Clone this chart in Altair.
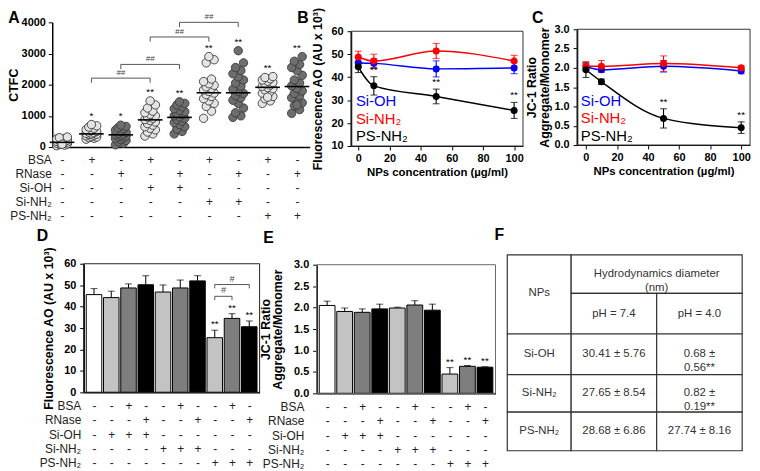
import json
import altair as alt
import pandas as pd

# ------------------------------------------------------------------ data
ROWS = ["BSA", "RNase", "Si-OH", "Si-NH₂", "PS-NH₂"]

# Panel A (CTFC scatter)
A_BSA = ["-", "+", "-", "+", "-", "+", "-", "+", "-"]
A_RNASE = ["-", "-", "+", "-", "+", "-", "+", "-", "+"]
A_SIOH = ["-", "-", "-", "+", "+", "-", "-", "-", "-"]
A_SINH2 = ["-", "-", "-", "-", "-", "+", "+", "-", "-"]
A_PSNH2 = ["-", "-", "-", "-", "-", "-", "-", "+", "+"]
A_SHADE = ["light", "light", "dark", "light", "dark", "light", "dark", "light", "dark"]
A_G0 = [40, 60, 80, 100, 110, 120, 140, 150, 160, 170, 180, 190, 200, 220, 240, 260, 280, 300, 320, 90]
A_G1 = [250, 280, 300, 320, 340, 360, 380, 400, 410, 420, 440, 460, 480, 500, 530, 560, 600, 640, 680, 720]
A_G2 = [70, 120, 170, 210, 240, 270, 300, 330, 350, 370, 390, 410, 440, 470, 500, 540, 580, 620, 660, 700]
A_G3 = [350, 420, 480, 550, 600, 650, 700, 750, 800, 850, 880, 920, 960, 1000, 1050, 1100, 1150, 1250, 1350, 1480]
A_G4 = [420, 500, 580, 650, 720, 780, 830, 880, 920, 960, 1000, 1040, 1080, 1130, 1180, 1230, 1290, 1350, 1400, 1450]
A_G5 = [920, 1150, 1300, 1400, 1480, 1550, 1620, 1680, 1730, 1780, 1830, 1880, 1930, 1980, 2030, 2100, 2180, 2700, 2800, 2900]
A_G6 = [950, 1000, 1100, 1250, 1400, 1500, 1580, 1650, 1720, 1780, 1850, 1950, 2050, 2150, 2250, 2350, 2450, 2550, 2700, 3090]
A_G7 = [1400, 1480, 1550, 1620, 1680, 1730, 1780, 1830, 1870, 1910, 1950, 1990, 2030, 2070, 2110, 2150, 2190, 2230, 2260, 1600]
A_G8 = [1080, 1200, 1320, 1420, 1500, 1580, 1650, 1720, 1800, 1880, 1960, 2050, 2150, 2300, 2450, 2550, 2650, 2750, 2900, 1350]
A_GROUPS = [A_G0, A_G1, A_G2, A_G3, A_G4, A_G5, A_G6, A_G7, A_G8]
A_MEANS = [150, 420, 390, 870, 950, 1740, 1740, 1915, 1940]
A_STARS = ["", "*", "*", "**", "**", "**", "**", "**", "**"]
A_BR_FROM = [1, 2, 3, 4]
A_BR_TO = [3, 4, 5, 6]
A_BR_Y = [2210, 2650, 3530, 4000]
A_BR_TEXT = ["##", "##", "##", "##"]

# Panels B and C (concentration curves)
CONC = [0, 10, 50, 100]
SERIES = ["Si-OH", "Si-NH₂", "PS-NH₂"]
SERIES_COLORS = ["#0000ff", "#ff0000", "#000000"]
B_SIOH = [46.2, 46.0, 43.6, 44.0]
B_SIOH_ERR = [2.0, 2.0, 3.5, 2.5]
B_SINH2 = [48.8, 47.0, 51.4, 47.0]
B_SINH2_ERR = [2.5, 3.0, 3.3, 2.5]
B_PSNH2 = [44.5, 36.2, 31.6, 25.5]
B_PSNH2_ERR = [2.5, 4.0, 3.2, 3.5]
B_STARS = ["", "**", "**", "**"]
C_SIOH = [2.03, 1.95, 2.04, 1.92]
C_SIOH_ERR = [0.08, 0.06, 0.15, 0.07]
C_SINH2 = [2.05, 2.04, 2.11, 2.00]
C_SINH2_ERR = [0.10, 0.15, 0.20, 0.05]
C_PSNH2 = [1.95, 1.64, 0.69, 0.45]
C_PSNH2_ERR = [0.20, 0.07, 0.25, 0.15]
C_STARS = ["", "*", "**", "**"]

# Panels D and E (bars)
D_BSA = ["-", "-", "+", "-", "-", "+", "-", "-", "+", "-"]
D_RNASE = ["-", "-", "-", "+", "-", "-", "+", "-", "-", "+"]
D_SIOH = ["-", "+", "+", "+", "-", "-", "-", "-", "-", "-"]
D_SINH2 = ["-", "-", "-", "-", "+", "+", "+", "-", "-", "-"]
D_PSNH2 = ["-", "-", "-", "-", "-", "-", "-", "+", "+", "+"]
BAR_SHADE = ["white", "light", "dark", "black", "light", "dark", "black", "light", "dark", "black"]
D_VALUES = [45.6, 44.2, 48.7, 50.2, 46.8, 48.7, 52.0, 25.5, 34.5, 30.6]
D_ERR = [2.8, 3.0, 1.9, 4.2, 3.3, 3.7, 2.4, 3.5, 2.2, 2.7]
D_STARS = ["", "", "", "", "", "", "", "**", "**", "**"]
D_BR_FROM = [7, 7]
D_BR_TO = [9, 8]
D_BR_Y = [50.3, 44.8]
D_BR_TEXT = ["#", "#"]
E_VALUES = [2.05, 1.91, 1.89, 1.97, 1.99, 2.06, 1.94, 0.45, 0.63, 0.61]
E_ERR = [0.10, 0.08, 0.08, 0.11, 0.02, 0.10, 0.14, 0.15, 0.02, 0.01]
E_STARS = ["", "", "", "", "", "", "", "**", "**", "**"]

# Panel F (table)
F_TEXT = ["NPs", "Hydrodynamics diameter|(nm)", "pH = 7.4", "pH = 4.0",
          "Si-OH", "30.41 ± 5.76", "0.68 ±|0.56**",
          "Si-NH₂", "27.65 ± 8.54", "0.82 ±|0.19**",
          "PS-NH₂", "28.68 ± 6.86", "27.74 ± 8.16"]
F_C0 = [0, 1, 1, 2, 0, 1, 2, 0, 1, 2, 0, 1, 2]
F_C1 = [1, 3, 2, 3, 1, 2, 3, 1, 2, 3, 1, 2, 3]
F_R0 = [0, 0, 1, 1, 2, 2, 2, 3, 3, 3, 4, 4, 4]
F_R1 = [2, 1, 2, 2, 3, 3, 3, 4, 4, 4, 5, 5, 5]

# ------------------------------------------------------------------ layout helpers
W, H = 752, 463
SX = 752 / 757
FONT = "Liberation Sans"
A_FILL = {"light": "#e4e4e4", "dark": "#6e6e6e"}
BAR_FILL = {"white": "#ffffff", "light": "#c3c3c3", "dark": "#7e7e7e", "black": "#000000"}


def px(r):
    return (r - 3) * SX


def py(r):
    return r - 6


def matrix_expr(cols):
    labels = ["|".join(c) for c in zip(*cols)]
    return "split(" + json.dumps(labels) + "[datum.value], '|')"


def matrix_axis(cols, axis_y, label_right, pad, lh):
    return alt.Axis(orient="bottom", offset=py(axis_y) - H, values=list(range(len(cols[0]))),
                    labelExpr=matrix_expr(cols), ticks=False, tickSize=0,
                    domainColor="black", domainWidth=1.5,
                    labelFont=FONT, labelFontSize=12, labelColor="#222", labelFontWeight="normal",
                    labelBaseline="top", labelLineHeight=lh, labelPadding=pad,
                    labelOverlap=False, labelFlush=False, labelAlign="center",
                    title=ROWS, titleFont=FONT, titleFontSize=12, titleFontWeight="normal",
                    titleColor="#222", titleAlign="right", titleBaseline="top",
                    titleX=px(label_right), titleY=pad, titleLineHeight=lh, grid=False)


def y_axis(axis_x, values, title, fmt, title_pad=4, label_pad=4):
    return alt.Axis(orient="left", offset=-px(axis_x), values=values, format=fmt,
                    tickSize=4, tickColor="black",
                    domainColor="black", domainWidth=1.5, labelFont=FONT, labelFontSize=11,
                    labelFontWeight="bold", labelColor="black", labelPadding=label_pad,
                    labelOverlap=False, labelFlush=False,
                    title=title, titleFont=FONT, titleFontSize=12.5, titleFontWeight="bold",
                    titleColor="black", titlePadding=title_pad, titleLineHeight=12.5, grid=False)


def conc_axis(axis_y):
    return alt.Axis(orient="bottom", offset=py(axis_y) - H, values=[0, 20, 40, 60, 80, 100],
                    tickSize=4, tickColor="black", domainColor="black", domainWidth=1.2,
                    labelFont=FONT, labelFontSize=11, labelFontWeight="bold", labelColor="black",
                    labelPadding=3, labelOverlap=False, labelFlush=False,
                    title="NPs concentration (µg/ml)", titleFont=FONT, titleFontSize=11.5,
                    titleFontWeight="bold", titleColor="black", titlePadding=3, grid=False)


def brackets(xs, ys, frm, to, yv, txt, tick, fsize):
    df = pd.DataFrame({"f": frm, "t": to, "y": yv, "txt": txt})
    base = alt.Chart(df).transform_calculate(ylo=f"datum.y - {tick}", mid="(datum.f + datum.t) / 2")
    h = base.mark_rule(color="#555", strokeWidth=1).encode(
        x=alt.X("f:Q", scale=xs), x2="t:Q", y=alt.Y("y:Q", scale=ys))
    l1 = base.mark_rule(color="#555", strokeWidth=1).encode(
        x=alt.X("f:Q", scale=xs), y=alt.Y("y:Q", scale=ys), y2="ylo:Q")
    l2 = base.mark_rule(color="#555", strokeWidth=1).encode(
        x=alt.X("t:Q", scale=xs), y=alt.Y("y:Q", scale=ys), y2="ylo:Q")
    tx = base.mark_text(font=FONT, fontSize=fsize, fontStyle="italic", color="#444",
                        baseline="bottom", dy=-1).encode(
        x=alt.X("mid:Q", scale=xs), y=alt.Y("y:Q", scale=ys), text="txt:N")
    return [h, l1, l2, tx]


def box(xs, ys, xdom, ydom, color):
    df = pd.DataFrame({"x0": [xdom[0]], "x1": [xdom[1]], "y0": [ydom[0]], "y1": [ydom[1]]})
    return alt.Chart(df).mark_rect(fillOpacity=0, stroke=color, strokeWidth=1).encode(
        x=alt.X("x0:Q", scale=xs), x2="x1:Q",
        y=alt.Y("y0:Q", scale=ys), y2="y1:Q")


def letter(t, rx, ry):
    return alt.Chart(pd.DataFrame({"t": [t]})).mark_text(
        font=FONT, fontSize=16, fontWeight="bold", align="center", baseline="middle",
        color="black").encode(x=alt.value(px(rx)), y=alt.value(py(ry)), text="t:N")


# ------------------------------------------------------------------ panel A
a_rows = []
for i, vals in enumerate(A_GROUPS):
    for j, v in enumerate(vals):
        a_rows.append({"idx": i, "j": j, "val": v, "fill": A_FILL[A_SHADE[i]]})
dfA = pd.DataFrame(a_rows)
xA = alt.Scale(domain=[-0.335, 8.435], range=[px(48), px(310)], nice=False, zero=False)
yA = alt.Scale(domain=[0, 4000], range=[py(144), py(18)], nice=False, zero=False)
A_cols = [A_BSA, A_RNASE, A_SIOH, A_SINH2, A_PSNH2]

A_pts = alt.Chart(dfA).transform_calculate(
    xj="datum.idx + (((datum.j * 3) % 5) - 2) * 0.09"
).mark_circle(size=72, opacity=1, stroke="#3a3a3a", strokeWidth=0.9).encode(
    x=alt.X("xj:Q", scale=xA, axis=matrix_axis(A_cols, 144, 47, 7.5, 14.25)),
    y=alt.Y("val:Q", scale=yA, axis=y_axis(48, [0, 1000, 2000, 3000, 4000], "CTFC", "d",
                                           title_pad=1, label_pad=3)),
    fill=alt.Fill("fill:N", scale=None))

dfAm = pd.DataFrame({"idx": list(range(9)), "mean": A_MEANS, "star": A_STARS,
                     "top": [max(g) for g in A_GROUPS]})
A_mean = alt.Chart(dfAm).transform_calculate(
    x0="datum.idx - 0.42", x1="datum.idx + 0.42"
).mark_rule(color="black", strokeWidth=1.6).encode(
    x=alt.X("x0:Q", scale=xA), x2="x1:Q", y=alt.Y("mean:Q", scale=yA))
A_star = alt.Chart(dfAm).mark_text(font=FONT, fontSize=10, baseline="bottom", dy=-4,
                                   color="black").encode(
    x=alt.X("idx:Q", scale=xA), y=alt.Y("top:Q", scale=yA), text="star:N")

panelA = alt.layer(A_pts, A_mean, A_star,
                   *brackets(xA, yA, A_BR_FROM, A_BR_TO, A_BR_Y, A_BR_TEXT, 150, 8))


# ------------------------------------------------------------------ panels B, C
def line_panel(means, errs, stars, xdom, xr, ydom, yr, yvals, ytitle, yfmt, axis_x, axis_y,
               leg_x, leg_y, title_pad):
    rows = []
    for s, col, m, e in zip(SERIES, SERIES_COLORS, means, errs):
        for k, (c, mv, ev) in enumerate(zip(CONC, m, e)):
            rows.append(dict(series=s, color=col, conc=c, mean=mv, lo=mv - ev, hi=mv + ev,
                             star=stars[k] if s == "PS-NH₂" else ""))
    df = pd.DataFrame(rows)
    xs = alt.Scale(domain=xdom, range=xr, nice=False, zero=False)
    ys = alt.Scale(domain=ydom, range=yr, nice=False, zero=False)
    base = alt.Chart(df)
    X = alt.X("conc:Q", scale=xs)
    clr = alt.Color("color:N", scale=None)
    lines = base.mark_line(interpolate="monotone", strokeWidth=1.5).encode(
        x=alt.X("conc:Q", scale=xs, axis=conc_axis(axis_y)),
        y=alt.Y("mean:Q", scale=ys, axis=y_axis(axis_x, yvals, ytitle, yfmt, title_pad)),
        detail="series:N", color=clr)
    err = base.mark_rule(strokeWidth=1.1).encode(
        x=X, y=alt.Y("lo:Q", scale=ys), y2="hi:Q", color=clr)
    cap_lo = base.mark_tick(orient="horizontal", size=7, thickness=1.1).encode(
        x=X, y=alt.Y("lo:Q", scale=ys), color=clr)
    cap_hi = base.mark_tick(orient="horizontal", size=7, thickness=1.1).encode(
        x=X, y=alt.Y("hi:Q", scale=ys), color=clr)
    pts = base.mark_circle(size=50, opacity=1).encode(
        x=X, y=alt.Y("mean:Q", scale=ys), color=clr)
    st = base.mark_text(font=FONT, fontSize=10, baseline="bottom", dy=-2, color="black").encode(
        x=X, y=alt.Y("hi:Q", scale=ys), text="star:N")
    leg = alt.Chart(pd.DataFrame({"name": SERIES, "color": SERIES_COLORS, "lx": [leg_x] * 3,
                                  "ly": leg_y})).mark_text(
        font=FONT, fontSize=15, align="left", baseline="middle").encode(
        x=alt.X("lx:Q", scale=xs), y=alt.Y("ly:Q", scale=ys),
        text="name:N", color=clr)
    return alt.layer(lines, box(xs, ys, xdom, ydom, "#333"), err, cap_lo, cap_hi, pts, st, leg)


panelB = line_panel([B_SIOH, B_SINH2, B_PSNH2], [B_SIOH_ERR, B_SINH2_ERR, B_PSNH2_ERR], B_STARS,
                    [-4.66, 105.7], [px(352), px(527)], [10, 60], [py(143), py(27)],
                    [10, 20, 30, 40, 50, 60], "Fluorescence AO (AU x 10³)", "d", 352, 143,
                    -1.5, [29.4, 21.8, 14.4], 7)
panelC = line_panel([C_SIOH, C_SINH2, C_PSNH2], [C_SIOH_ERR, C_SINH2_ERR, C_PSNH2_ERR], C_STARS,
                    [-5.7, 105.7], [px(582), px(758)], [0, 3], [py(142), py(25)],
                    [0, 0.5, 1, 1.5, 2, 2.5, 3], ["JC-1 Ratio", "Aggregate/Monomer"], ".1f",
                    582, 142, -3.3, [1.15, 0.69, 0.23], 3)


# ------------------------------------------------------------------ panels D, E
def bar_panel(values, errs, stars, xr, ydom, yr, yvals, yfmt, ytitle, axis_x, axis_y,
              label_right, box_color, title_pad, br=None, br_tick=1.8):
    df = pd.DataFrame({"idx": list(range(10)), "mean": values, "err": errs,
                       "fill": [BAR_FILL[s] for s in BAR_SHADE], "star": stars,
                       "zero": [0] * 10})
    xdom = [-0.6, 9.6]
    xs = alt.Scale(domain=xdom, range=xr, nice=False, zero=False)
    ys = alt.Scale(domain=ydom, range=yr, nice=False, zero=False)
    base = alt.Chart(df).transform_calculate(
        x0="datum.idx - 0.45", x1="datum.idx + 0.45", hi="datum.mean + datum.err")
    cols = [D_BSA, D_RNASE, D_SIOH, D_SINH2, D_PSNH2]
    bars = base.mark_rect(stroke="black", strokeWidth=1).encode(
        x=alt.X("x0:Q", scale=xs, axis=matrix_axis(cols, axis_y, label_right, 8.5, 14.4)),
        x2="x1:Q",
        y=alt.Y("mean:Q", scale=ys, axis=y_axis(axis_x, yvals, ytitle, yfmt, title_pad)),
        y2="zero:Q", fill=alt.Fill("fill:N", scale=None))
    X = alt.X("idx:Q", scale=xs)
    err = base.mark_rule(color="black", strokeWidth=1).encode(
        x=X, y=alt.Y("mean:Q", scale=ys), y2="hi:Q")
    cap = base.mark_tick(orient="horizontal", size=7, thickness=1, color="black").encode(
        x=X, y=alt.Y("hi:Q", scale=ys))
    st = base.mark_text(font=FONT, fontSize=10, baseline="bottom", dy=-1, color="black").encode(
        x=X, y=alt.Y("hi:Q", scale=ys), text="star:N")
    layers = [bars, box(xs, ys, xdom, [ydom[0], ydom[1]], box_color), err, cap, st]
    if br:
        layers += brackets(xs, ys, *br, br_tick, 9)
    return alt.layer(*layers)


panelD = bar_panel(D_VALUES, D_ERR, D_STARS, [px(80), px(259)], [0, 60], [py(392), py(262)],
                   [0, 10, 20, 30, 40, 50, 60], "d", "Fluorescence AO (AU x 10³)", 80, 392, 77,
                   "#222", 8, br=(D_BR_FROM, D_BR_TO, D_BR_Y, D_BR_TEXT), br_tick=1.8)
panelE = bar_panel(E_VALUES, E_ERR, E_STARS, [px(317), px(499)], [0, 3], [py(393), py(263)],
                   [0, 0.5, 1, 1.5, 2, 2.5, 3], ".1f", ["JC-1 Ratio", "Aggregate/Monomer"],
                   317, 393, 304, "#666", 9)

# ------------------------------------------------------------------ panel F (table)
dfF = pd.DataFrame({"text": F_TEXT, "c0": F_C0, "c1": F_C1, "r0": F_R0, "r1": F_R1})
xF = alt.Scale(domain=[0, 1, 2, 3], range=[px(511), px(576), px(663), px(750)], nice=False, zero=False)
yF = alt.Scale(domain=[0, 1, 2, 3, 4, 5],
               range=[py(253), py(292), py(333), py(374), py(412), py(451)], nice=False, zero=False)
F_base = alt.Chart(dfF).transform_calculate(
    xc="(datum.c0 + datum.c1) / 2", yc="(datum.r0 + datum.r1) / 2",
    lines="split(datum.text, '|')")
F_cells = F_base.mark_rect(fill="white", stroke="#333", strokeWidth=1.2).encode(
    x=alt.X("c0:Q", scale=xF, axis=None), x2="c1:Q",
    y=alt.Y("r0:Q", scale=yF, axis=None), y2="r1:Q")
F_txt = F_base.mark_text(font=FONT, fontSize=11.5, color="#333", lineHeight=14,
                         align="center", baseline="middle").encode(
    x=alt.X("xc:Q", scale=xF, axis=None), y=alt.Y("yc:Q", scale=yF, axis=None),
    text=alt.Text("lines:N"))
panelF = alt.layer(F_cells, F_txt)

letters = [letter("A", 9, 14), letter("B", 303, 14), letter("C", 542, 14),
           letter("D", 38, 234), letter("E", 268, 236), letter("F", 503, 233)]

chart = alt.layer(panelA, panelB, panelC, panelD, panelE, panelF, *letters).resolve_scale(
    x="independent", y="independent"
).properties(
    width=W, height=H, padding=0, autosize=alt.AutoSizeParams(type="none")
).configure_view(stroke=None).configure_axis(grid=False)

chart.save("out.html", embed_options={"renderer": "svg", "actions": False})
